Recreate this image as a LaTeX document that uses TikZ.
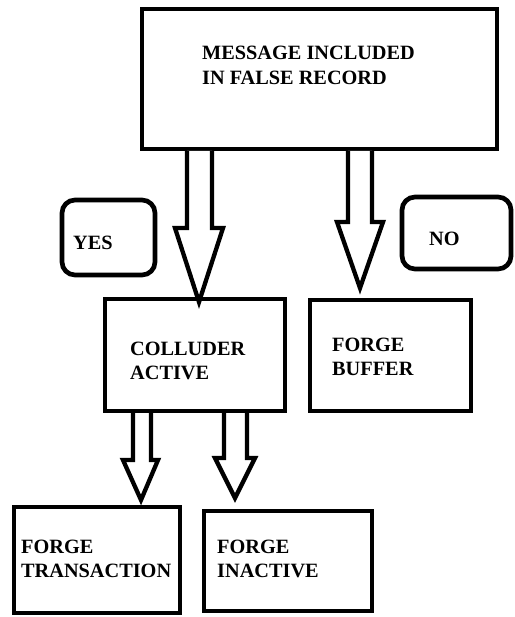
\documentclass[tikz,border=0pt]{standalone}
\usepackage{fontspec}
\setmainfont{Liberation Serif}
\begin{document}
\begin{tikzpicture}[x=1pt,y=-1pt,
  box/.style={draw,line width=4.7pt,inner sep=0pt,line join=miter},
  rbox/.style={draw,line width=4.7pt,inner sep=0pt,rounded corners=13pt},
  lbl/.style={anchor=base west,inner sep=0pt,font=\fontsize{20.3}{24}\selectfont\bfseries},
  blockarrow/.style={draw,line width=4.3pt,line join=miter,miter limit=20,fill=white}]
\useasboundingbox (0,0) rectangle (514,617);
% boxes
\node[box,minimum width=355pt,minimum height=140pt] (msg) at (319.5,79) {};
\node[rbox,minimum width=93pt,minimum height=75pt] (yes) at (108.5,237.5) {};
\node[rbox,minimum width=109pt,minimum height=72pt] (no) at (456.5,233) {};
\node[box,minimum width=180pt,minimum height=112pt] (coll) at (195,355) {};
\node[box,minimum width=161pt,minimum height=111pt] (buf) at (390.5,355.5) {};
\node[box,minimum width=166pt,minimum height=106pt] (ftr) at (97,560) {};
\node[box,minimum width=168pt,minimum height=100pt] (fin) at (288,561) {};
% texts
\node[lbl] (t1) at (202,60) {MESSAGE INCLUDED};
\node[lbl] (t2) at (202,85) {IN FALSE RECORD};
\node[lbl] (tyes) at (73,249) {YES};
\node[lbl] (tno) at (429,245) {NO};
\node[lbl] (t3) at (130,355) {COLLUDER};
\node[lbl] (t4) at (130,379) {ACTIVE};
\node[lbl] (t5) at (332,351) {FORGE};
\node[lbl] (t6) at (332,375) {BUFFER};
\node[lbl] (t7) at (21,553) {FORGE};
\node[lbl] (t8) at (21,577) {TRANSACTION};
\node[lbl] (t9) at (217,553) {FORGE};
\node[lbl] (t10) at (217,577) {INACTIVE};
% block arrows
\draw[blockarrow] (187,151) -- (187,228) -- (175,228) -- (199,302) -- (223,228) -- (212,228) -- (212,151);
\draw[blockarrow] (348,151) -- (348,222) -- (337,222) -- (360,288) -- (383,222) -- (372,222) -- (372,151);
\draw[blockarrow] (133,413) -- (133,460) -- (123,460) -- (141,500) -- (158,460) -- (151,460) -- (151,413);
\draw[blockarrow] (224,413) -- (224,458) -- (215,458) -- (235,498) -- (255,458) -- (247,458) -- (247,413);
\end{tikzpicture}
\end{document}
